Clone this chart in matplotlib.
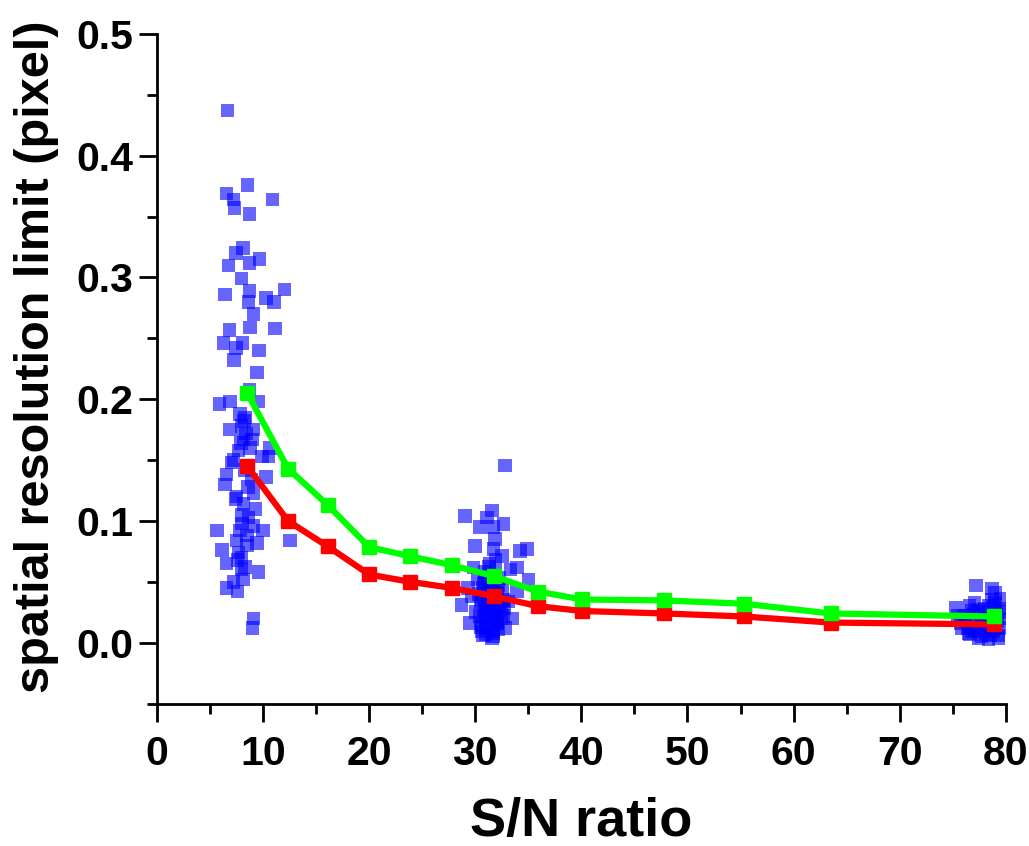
import matplotlib
matplotlib.use("Agg")
import matplotlib.pyplot as plt
from matplotlib.ticker import MultipleLocator, FormatStrFormatter

# ---- data ----
line_x = [8.5, 12.35, 16.1, 20.0, 23.85, 27.8, 31.8, 35.9, 40.05, 47.8, 55.3, 63.5, 78.9]
green_y = [0.205, 0.143, 0.113, 0.0785, 0.071, 0.0636, 0.0545, 0.042, 0.0355, 0.0347, 0.032, 0.024, 0.0215]
red_y = [0.145, 0.100, 0.079, 0.056, 0.050, 0.045, 0.038, 0.030, 0.026, 0.024, 0.0215, 0.0165, 0.015]

c1_x = [6.66, 8.51, 6.57, 7.2, 7.29, 10.9, 8.7, 8.08, 7.45, 6.73, 8.7, 9.65, 7.98, 6.41, 8.7,
        8.61, 10.28, 12.0, 11.03, 9.08, 8.77, 6.82, 11.12, 6.25, 8.04, 7.45, 9.62, 7.26, 9.4,
        8.7, 5.87, 6.88, 9.55, 7.82, 6.88, 7.98, 9.08, 8.14, 8.93, 8.77, 10.65, 7.2, 9.87, 10.5,
        8.3, 6.57, 10.28, 6.41, 7.51, 9.08, 8.14, 8.61, 5.63, 7.82, 9.08, 9.97, 12.54, 7.51,
        8.46, 9.4, 6.1, 7.98, 6.57, 9.55, 7.98, 8.08, 6.57, 7.57, 9.08, 9.02, 8.3, 7.7, 8.9,
        7.0, 9.3, 8.0, 7.6, 8.4, 8.2, 7.9, 8.6, 7.4, 8.0, 8.5, 7.7, 8.3, 7.2]
c1_y = [0.437, 0.376, 0.369, 0.364, 0.357, 0.364, 0.352, 0.324, 0.32, 0.31, 0.312, 0.315, 0.299,
        0.286, 0.289, 0.28, 0.283, 0.29, 0.28, 0.27, 0.259, 0.257, 0.258, 0.246, 0.246, 0.242,
        0.24, 0.232, 0.222, 0.208, 0.196, 0.198, 0.198, 0.188, 0.175, 0.178, 0.175, 0.167, 0.167,
        0.16, 0.16, 0.15, 0.153, 0.153, 0.142, 0.138, 0.136, 0.13, 0.12, 0.123, 0.114, 0.103,
        0.092, 0.092, 0.096, 0.092, 0.084, 0.084, 0.08, 0.082, 0.076, 0.07, 0.065, 0.058, 0.06,
        0.052, 0.045, 0.042, 0.02, 0.012, 0.185, 0.158, 0.134, 0.148, 0.11, 0.105, 0.068,
        0.172, 0.182, 0.164, 0.128, 0.118, 0.098, 0.088, 0.074, 0.062, 0.05]

c2_x = [32.81, 29.04, 31.55, 31.08, 30.45, 32.65, 31.71, 29.98, 31.87, 31.71, 34.85, 34.22,
        32.5, 33.91, 29.82, 35.0, 28.72, 29.5, 30.6, 31.55, 32.8, 32.65, 33.12, 33.91,
        30.9, 31.3, 31.8, 32.2, 30.7, 31.2, 31.6, 32.0, 30.5, 31.0, 31.4, 31.9, 32.3, 30.8,
        31.5, 32.1, 30.6, 31.1, 31.7, 30.3, 32.4, 29.3, 33.3, 30.0, 31.35, 31.9, 30.95, 32.55,
        30.2, 30.8, 31.4, 32.0, 32.6, 30.4, 31.0, 31.6, 32.2, 30.6, 31.2, 31.8, 32.4, 30.9,
        31.5, 32.1, 31.1, 31.7, 30.5, 32.3, 31.3, 31.9, 30.7, 31.45, 32.05, 30.85, 31.25,
        31.65, 32.7, 29.7, 33.5]
c2_y = [0.1457, 0.104, 0.1085, 0.103, 0.0948, 0.0975, 0.0948, 0.0796, 0.085, 0.0769, 0.0769,
        0.0755, 0.0713, 0.0617, 0.0617, 0.052, 0.031, 0.016, 0.0093, 0.0039, 0.012, 0.022,
        0.034, 0.042, 0.058, 0.055, 0.05, 0.047, 0.045, 0.04, 0.038, 0.036, 0.033, 0.03, 0.028,
        0.026, 0.024, 0.021, 0.019, 0.017, 0.014, 0.012, 0.009, 0.04, 0.03, 0.045, 0.06, 0.025,
        0.065, 0.068, 0.007, 0.044,
        0.052, 0.048, 0.043, 0.039, 0.035, 0.022, 0.018, 0.015, 0.011, 0.036, 0.032, 0.027,
        0.02, 0.05, 0.046, 0.041, 0.024, 0.008, 0.013, 0.053, 0.062, 0.057, 0.006, 0.035,
        0.016, 0.027, 0.044, 0.005, 0.028, 0.038, 0.02]

c3_x = [77.18, 78.69, 79.0, 75.33, 77.05, 79.0, 76.65, 77.43, 78.37, 79.31, 76.0, 77.8, 78.2,
        78.9, 79.5, 76.4, 77.6, 78.6, 79.2, 75.8, 77.0, 78.0, 79.4, 76.9, 78.5, 79.6,
        75.5, 76.2, 76.8, 77.3, 77.9, 78.4, 78.8, 79.1, 79.5, 76.5, 77.1, 77.7, 78.3, 79.0,
        79.7, 75.9, 76.6, 77.4, 78.1, 78.7, 79.3]
c3_y = [0.047, 0.0444, 0.041, 0.0287, 0.0328, 0.0328, 0.0066, 0.0039, 0.0025, 0.0039, 0.022,
        0.025, 0.02, 0.03, 0.036, 0.012, 0.015, 0.011, 0.018, 0.016, 0.023, 0.028, 0.025,
        0.009, 0.006, 0.012,
        0.022, 0.018, 0.026, 0.02, 0.014, 0.03, 0.009, 0.024, 0.028, 0.008, 0.01, 0.005,
        0.016, 0.013, 0.02, 0.012, 0.03, 0.027, 0.007, 0.035, 0.006]

# ---- plot ----
plt.rcParams['font.family'] = ['Liberation Sans', 'DejaVu Sans']
fig = plt.figure(figsize=(10.29, 8.46), dpi=100)
ax = fig.add_axes([0.1526, 0.1684, 0.8248, 0.7914])

sc_kw = dict(marker='s', s=95, color='#0000FF', alpha=0.6, edgecolors='none', zorder=2)
ax.scatter(c1_x, c1_y, **sc_kw)
ax.scatter(c2_x, c2_y, **sc_kw)
ax.scatter(c3_x, c3_y, **sc_kw)

ax.plot(line_x, red_y, color='#FF0000', lw=4.5, marker='s', ms=10, zorder=3)
ax.plot(line_x, green_y, color='#00FF00', lw=4.5, marker='s', ms=10, zorder=4)

ax.set_xlim(0, 80)
ax.set_ylim(-0.05, 0.5)
ax.xaxis.set_major_locator(MultipleLocator(10))
ax.xaxis.set_minor_locator(MultipleLocator(5))
ax.yaxis.set_major_locator(MultipleLocator(0.1))
ax.yaxis.set_minor_locator(MultipleLocator(0.05))
ax.yaxis.set_major_formatter(FormatStrFormatter('%.1f'))

for s in ['top', 'right']:
    ax.spines[s].set_visible(False)
for s in ['left', 'bottom']:
    ax.spines[s].set_linewidth(2)
ax.tick_params(which='major', direction='out', length=13, width=2, labelsize=29.5)
ax.tick_params(axis='y', which='major', pad=4)
ax.tick_params(axis='x', which='major', pad=10)
ax.tick_params(which='minor', direction='out', length=7, width=2)
for lab in ax.get_xticklabels() + ax.get_yticklabels():
    lab.set_fontweight('bold')

ax.set_xlabel('S/N ratio', fontsize=39, fontweight='bold')
ax.set_ylabel('spatial resolution limit (pixel)', fontsize=35, fontweight='bold')
ax.xaxis.set_label_coords(0.5, -0.14)
ax.yaxis.set_label_coords(-0.115, 0.518)

fig.savefig('out.png', dpi=100)
